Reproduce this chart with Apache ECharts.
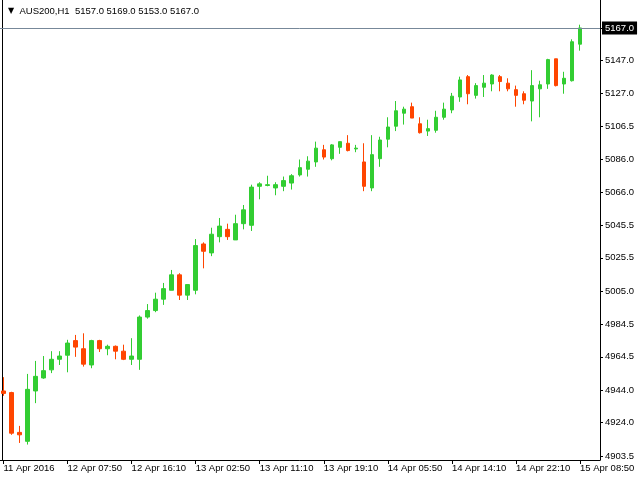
<!DOCTYPE html>
<html><head><meta charset="utf-8">
<script src="https://cdn.jsdelivr.net/npm/echarts@6/dist/echarts.min.js"></script>
<style>html,body{margin:0;padding:0;background:#fff}#c{width:640px;height:480px}</style>
</head><body><div id="c"></div>
<script>
const symbolName = 'AUS200,H1';
const timeLabels = ['11 Apr 2016','12 Apr 07:50','12 Apr 16:10','13 Apr 02:50','13 Apr 11:10','13 Apr 19:10','14 Apr 05:50','14 Apr 14:10','14 Apr 22:10','15 Apr 08:50'];
const opens = [4943.5,4942.5,4918.0,4912.5,4943.5,4951.5,4956.5,4963.0,4965.5,4974.5,
  4969.5,4959.5,4974.5,4969.5,4971.0,4968.0,4963.0,4963.0,4989.0,4993.0,
  5000.0,5005.5,5015.0,5002.5,5005.5,5034.0,5028.5,5038.5,5043.0,5036.5,
  5046.5,5045.5,5069.5,5070.0,5068.5,5069.5,5071.5,5076.5,5080.0,5084.5,
  5092.0,5086.5,5093.5,5096.0,5092.5,5084.5,5068.5,5086.5,5098.5,5106.5,
  5114.5,5118.5,5108.0,5103.5,5104.0,5112.0,5116.5,5124.5,5137.0,5125.5,
  5130.5,5132.5,5137.0,5133.0,5129.0,5126.5,5122.0,5129.5,5132.5,5148.0,
  5132.5,5134.5,5157.0];
const highs = [4952.0,4943.0,4922.0,4954.0,4962.0,4965.0,4968.0,4968.0,4975.0,4978.0,
  4979.0,4975.0,4975.0,4972.0,4971.5,4972.0,4976.0,4990.0,4997.0,5004.0,
  5010.0,5018.0,5016.0,5009.0,5037.0,5035.0,5044.0,5050.0,5046.5,5052.0,
  5058.0,5070.5,5072.0,5076.0,5072.0,5075.5,5077.0,5086.0,5088.0,5097.0,
  5095.0,5095.5,5097.0,5101.0,5095.0,5096.0,5101.0,5100.0,5112.0,5122.0,
  5118.5,5121.0,5112.0,5110.5,5116.0,5121.0,5127.0,5137.0,5138.0,5133.0,
  5138.0,5138.5,5138.0,5136.0,5131.5,5128.0,5141.0,5134.5,5148.0,5148.0,
  5140.0,5160.0,5169.0];
const lows = [4940.5,4916.5,4911.5,4910.5,4936.0,4951.0,4954.5,4959.5,4955.0,4964.5,
  4958.5,4957.5,4967.5,4965.5,4963.0,4962.5,4959.5,4956.5,4988.0,4992.0,
  4996.5,5005.5,4999.5,4999.5,5003.0,5019.0,5026.5,5035.0,5036.5,5036.5,
  5043.0,5042.0,5061.5,5069.5,5064.0,5066.5,5067.5,5075.5,5075.5,5081.5,
  5086.0,5085.5,5089.5,5091.0,5090.5,5066.5,5066.5,5081.5,5093.5,5103.5,
  5107.5,5111.5,5102.0,5100.5,5102.5,5110.5,5114.5,5121.5,5120.0,5123.5,
  5124.5,5128.0,5128.0,5128.0,5118.5,5120.0,5109.5,5112.0,5129.5,5131.0,
  5126.5,5134.0,5153.0];
const closes = [4942.0,4917.5,4916.5,4944.5,4952.5,4956.0,4963.0,4965.0,4973.0,4970.5,
  4960.0,4974.5,4969.5,4971.0,4968.0,4963.0,4965.0,4989.0,4993.0,5000.0,
  5006.5,5015.0,5002.5,5009.0,5033.0,5029.5,5040.0,5045.0,5038.5,5046.5,
  5055.0,5069.0,5071.0,5070.5,5070.5,5073.0,5076.0,5081.0,5085.0,5093.0,
  5087.5,5095.0,5097.0,5091.5,5093.0,5069.5,5089.0,5098.0,5106.0,5116.0,
  5117.0,5111.5,5102.5,5105.0,5112.0,5117.0,5125.0,5135.0,5126.5,5131.5,
  5133.0,5138.0,5134.0,5129.5,5125.5,5122.5,5131.5,5132.0,5147.5,5131.5,
  5136.0,5158.5,5167.0];
const priceTicks = [5167.0,5147.0,5127.0,5106.5,5086.0,5066.0,5045.5,5025.5,5005.0,4984.5,4964.5,4944.0,4924.0,4903.5];

const n = opens.length;
const padBars = 2;
const categories = [];
for (let i = 0; i < n + padBars; i++) {
  categories.push(i % 8 === 0 && i < n ? timeLabels[i / 8] : '');
}
const candles = opens.map((o, i) => [o, closes[i], lows[i], highs[i]]);
const last = n - 1;
const header = symbolName + '  ' + [opens[last], highs[last], lows[last], closes[last]].map(v => v.toFixed(1)).join(' ');

const UP = '#32CD32', DOWN = '#FF4500';
const FONT = 'Liberation Sans';
const chart = echarts.init(document.getElementById('c'), null, {renderer: 'canvas'});
chart.setOption({
  animation: false,
  backgroundColor: '#ffffff',
  title: {
    left: 3, top: 1,
    text: '{t|▼}  ' + header,
    textStyle: {
      fontFamily: FONT, fontSize: 9.5, fontWeight: 'normal', color: '#000',
      rich: {t: {fontSize: 8, color: '#000', fontFamily: 'DejaVu Sans'}}
    }
  },
  grid: {left: -0.5, right: 40, top: 0, bottom: 20, containLabel: false, outerBoundsMode: 'none'},
  xAxis: {
    type: 'category', data: categories, boundaryGap: true,
    axisLine: {show: true, onZero: false, lineStyle: {color: '#000', width: 1}},
    axisTick: {show: true, alignWithLabel: true, length: 4, interval: (i) => i % 8 === 0 && i < n, lineStyle: {color: '#000'}},
    axisLabel: {interval: 0, align: 'left', margin: 3, color: '#000', fontFamily: FONT, fontSize: 9.5, hideOverlap: false},
    splitLine: {show: false}
  },
  yAxis: [{
    type: 'value', position: 'right', min: 4901.0, max: 5184.2, scale: true,
    splitLine: {show: false},
    axisLine: {show: true, lineStyle: {color: '#000', width: 1}},
    axisTick: {show: true, length: 3, customValues: priceTicks, lineStyle: {color: '#000'}},
    axisLabel: {customValues: priceTicks, formatter: v => v.toFixed(1), margin: 5, color: '#000', fontFamily: FONT, fontSize: 9.5, hideOverlap: false}
  }, {
    type: 'value', position: 'left', offset: -3, min: 4901.0, max: 5184.2, scale: true,
    splitLine: {show: false},
    axisLine: {show: true, lineStyle: {color: '#000', width: 1}},
    axisTick: {show: false}, axisLabel: {show: false}
  }],
  series: [{
    type: 'candlestick',
    data: candles,
    barWidth: 4,
    itemStyle: {color: UP, color0: DOWN, borderColor: UP, borderColor0: DOWN, borderColorDoji: UP, borderWidth: 1},
    markLine: {
      silent: true, symbol: ['none', 'none'], animation: false,
      lineStyle: {color: '#778899', width: 1, type: 'solid'},
      label: {
        show: true, position: 'end', distance: 2,
        formatter: p => p.value.toFixed(1),
        backgroundColor: '#000', color: '#fff', padding: [2, 3, 1, 3],
        fontFamily: FONT, fontSize: 9.5
      },
      data: [{yAxis: closes[last]}]
    }
  }]
});
</script>
</body></html>
